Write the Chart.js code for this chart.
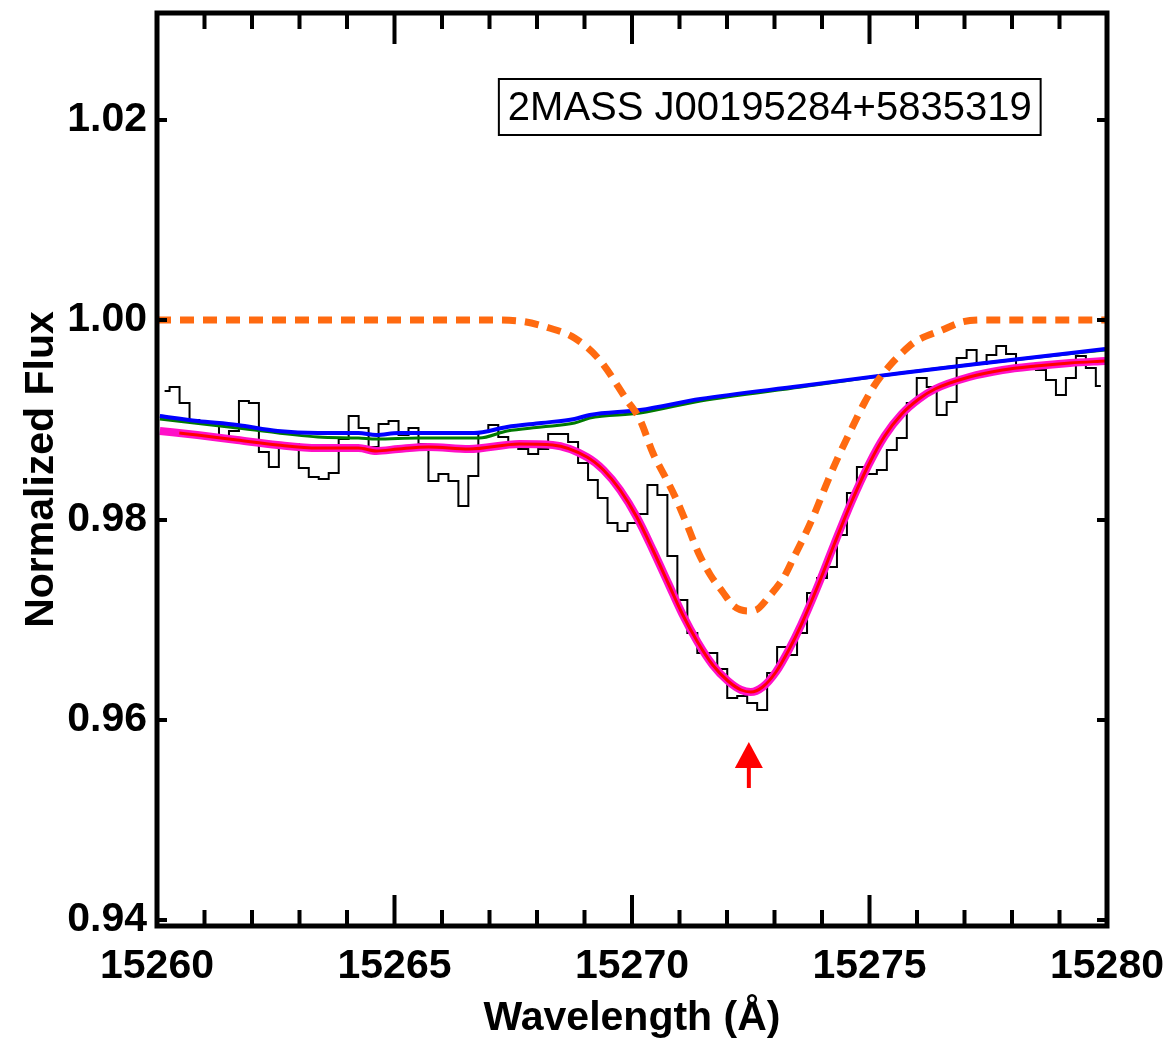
<!DOCTYPE html>
<html>
<head>
<meta charset="utf-8">
<script src="https://cdn.jsdelivr.net/npm/chart.js@4.4.1/dist/chart.umd.min.js"></script>
<style>
  html, body { margin: 0; padding: 0; background: #ffffff; }
  #wrap { width: 1167px; height: 1043px; }
</style>
</head>
<body>
<div id="wrap"><canvas id="c" width="1167" height="1043"></canvas></div>
<script>
// ---------- axis ranges / ticks ----------
const X_MIN = 15260, X_MAX = 15280, X_STEP = 5, X_MINOR = 1;
const Y_MIN = 0.9394, Y_MAX = 1.0307, Y_STEP = 0.02;

// ---------- observed spectrum (histogram, bin centres) ----------
const OBS_WAVE = [
  15260.16,15260.37,15260.58,15260.79,15260.99,15261.20,15261.41,15261.62,15261.83,15262.04,
  15262.25,15262.46,15262.67,15262.88,15263.09,15263.30,15263.51,15263.72,15263.93,15264.14,
  15264.35,15264.56,15264.77,15264.98,15265.19,15265.40,15265.61,15265.82,15266.03,15266.24,
  15266.45,15266.66,15266.87,15267.08,15267.29,15267.50,15267.71,15267.92,15268.13,15268.34,
  15268.55,15268.76,15268.97,15269.18,15269.38,15269.59,15269.80,15270.01,15270.22,15270.43,
  15270.64,15270.85,15271.06,15271.27,15271.48,15271.69,15271.90,15272.11,15272.32,15272.53,
  15272.74,15272.95,15273.16,15273.37,15273.58,15273.79,15274.00,15274.21,15274.42,15274.63,
  15274.84,15275.05,15275.26,15275.47,15275.68,15275.89,15276.10,15276.31,15276.52,15276.73,
  15276.94,15277.15,15277.36,15277.57,15277.77,15277.98,15278.19,15278.40,15278.61,15278.82,
  15279.03,15279.24,15279.45,15279.66,15279.87
];
const OBS_FLUX = [
  0.9929,0.9933,0.9917,0.9900,0.9898,0.9898,0.9884,0.9889,0.9919,0.9917,
  0.9868,0.9853,0.9876,0.9876,0.9852,0.9843,0.9841,0.9847,0.9881,0.9904,
  0.9892,0.9873,0.9896,0.9899,0.9885,0.9892,0.9876,0.9839,0.9846,0.9839,
  0.9814,0.9844,0.9888,0.9895,0.9883,0.9877,0.9871,0.9866,0.9871,0.9886,
  0.9886,0.9878,0.9857,0.9840,0.9822,0.9797,0.9789,0.9797,0.9806,0.9835,
  0.9825,0.9764,0.9720,0.9687,0.9667,0.9667,0.9651,0.9622,0.9624,0.9617,
  0.9610,0.9647,0.9673,0.9665,0.9687,0.9727,0.9742,0.9753,0.9785,0.9827,
  0.9853,0.9846,0.9850,0.9870,0.9882,0.9917,0.9942,0.9933,0.9905,0.9918,
  0.9962,0.9970,0.9956,0.9965,0.9974,0.9966,0.9955,0.9952,0.9950,0.9940,
  0.9925,0.9942,0.9964,0.9952,0.9934
];

// ---------- blue model ----------
const BLUE_WAVE = [15260.06,15260.85,15261.69,15262.54,15263.39,15264.24,15264.62,15265.08,15265.93,15266.67,
  15267.37,15268.09,15268.79,15269.11,15270.17,15271.44,15273.56,15275.68,15277.80,15279.96];
const BLUE_FLUX = [0.9904,0.9899,0.9895,0.9889,0.9887,0.9887,0.9885,0.9887,0.9887,0.9887,
  0.9893,0.9897,0.9901,0.9905,0.9910,0.9921,0.9934,0.9947,0.9959,0.9971];

// ---------- green model ----------
const GREEN_WAVE = [15260.06,15261.69,15263.39,15264.24,15264.62,15265.51,15266.78,15267.37,15268.09,15268.79,
  15269.11,15270.17,15271.44,15273.56,15275.68,15277.80,15279.96];
const GREEN_FLUX = [0.9901,0.9892,0.9883,0.9882,0.9881,0.9882,0.9882,0.9889,0.9893,0.9897,
  0.9902,0.9907,0.9919,0.9933,0.9947,0.9959,0.9970];

// ---------- magenta model ----------
const PINK_WAVE = [15260.06,15260.85,15261.69,15262.54,15263.39,15264.24,15264.62,15265.08,15265.72,15266.57,
  15267.63,15268.33,15269.05,15269.40,15269.75,15270.10,15270.44,15270.76,15271.06,15271.38,
  15271.70,15272.02,15272.30,15272.50,15272.75,15273.03,15273.30,15273.56,15273.92,15274.26,
  15274.62,15274.98,15275.32,15275.68,15276.04,15276.38,15277.10,15277.80,15278.50,15279.22,
  15279.96];
const PINK_FLUX = [0.9889,0.9885,0.9880,0.9875,0.9872,0.9872,0.9869,0.9871,0.9873,0.9871,
  0.9876,0.9875,0.9863,0.9850,0.9830,0.9803,0.9770,0.9737,0.9706,0.9678,
  0.9655,0.9639,0.9630,0.9628,0.9633,0.9648,0.9670,0.9695,0.9735,0.9776,
  0.9818,0.9855,0.9884,0.9906,0.9921,0.9931,0.9943,0.9950,0.9954,0.9957,
  0.9959];

// ---------- red model ----------
const RED_WAVE = [15260.47,15260.85,15261.69,15262.54,15263.39,15264.24,15264.62,15265.08,15265.72,15266.57,
  15267.63,15268.33,15269.05,15269.40,15269.75,15270.10,15270.44,15270.76,15271.06,15271.38,
  15271.70,15272.02,15272.30,15272.50,15272.75,15273.03,15273.30,15273.56,15273.92,15274.26,
  15274.62,15274.98,15275.32,15275.68,15276.04,15276.38,15277.10,15277.80,15278.50,15279.22,
  15279.96];
const RED_FLUX = [0.9887,0.9885,0.9880,0.9875,0.9872,0.9872,0.9869,0.9871,0.9873,0.9871,
  0.9876,0.9875,0.9863,0.9850,0.9830,0.9803,0.9770,0.9737,0.9706,0.9678,
  0.9655,0.9639,0.9630,0.9628,0.9633,0.9648,0.9670,0.9695,0.9735,0.9776,
  0.9818,0.9855,0.9884,0.9906,0.9921,0.9931,0.9943,0.9950,0.9954,0.9957,
  0.9959];

// ---------- orange dashed line profile ----------
const ORANGE_WAVE = [15260.00,15266.99,15267.63,15268.26,15268.79,15269.32,15269.89,15270.17,15270.44,15270.70,
  15270.91,15271.17,15271.40,15271.65,15271.91,15272.14,15272.44,15272.61,15272.86,15273.20,
  15273.41,15273.62,15273.83,15274.13,15274.34,15274.56,15274.89,15275.11,15275.40,15275.68,
  15275.95,15276.53,15276.95,15277.37,15280.00];
const ORANGE_FLUX = [1.0000,1.0000,0.9999,0.9992,0.9982,0.9960,0.9920,0.9900,0.9867,0.9843,
  0.9823,0.9794,0.9767,0.9745,0.9728,0.9714,0.9709,0.9710,0.9722,0.9743,
  0.9763,0.9783,0.9805,0.9840,0.9863,0.9885,0.9917,0.9935,0.9953,0.9967,
  0.9978,0.9990,0.9998,1.0000,1.0000];

// ---------- annotations ----------
const STAR_LABEL = "2MASS J00195284+5835319";
const LABEL_POS = { x: 15272.90, y: 1.0213 };
const ARROW = { x: 15272.46, tip: 0.9578, base: 0.9552, tail: 0.9532 };
const X_TITLE = "Wavelength (Å)";
const Y_TITLE = "Normalized Flux";

const FONT_FAMILY = '"Liberation Sans", Arial, Helvetica, sans-serif';

function pts(xs, ys) { return xs.map((x, i) => ({ x: x, y: ys[i] })); }

// frame + inward ticks
const framePlugin = {
  id: 'frame',
  afterDatasetsDraw(chart) {
    const { ctx, chartArea: a, scales } = chart;
    const xs = scales.x, ys = scales.y;
    ctx.save();
    ctx.strokeStyle = '#000';
    ctx.lineCap = 'butt';
    ctx.lineWidth = 4;
    for (let v = X_MIN; v <= X_MAX + 1e-9; v += X_MINOR) {
      const px = xs.getPixelForValue(v);
      const major = Math.abs(v / X_STEP - Math.round(v / X_STEP)) < 1e-6;
      const len = major ? 31 : 16;
      ctx.beginPath();
      ctx.moveTo(px, a.bottom); ctx.lineTo(px, a.bottom - len);
      ctx.moveTo(px, a.top); ctx.lineTo(px, a.top + len);
      ctx.stroke();
    }
    ys.ticks.forEach(t => {
      const py = ys.getPixelForValue(t.value);
      ctx.beginPath();
      ctx.moveTo(a.left, py); ctx.lineTo(a.left + 10, py);
      ctx.moveTo(a.right, py); ctx.lineTo(a.right - 10, py);
      ctx.stroke();
    });
    ctx.lineWidth = 5;
    ctx.strokeRect(a.left, a.top, a.right - a.left, a.bottom - a.top);
    ctx.restore();
  }
};

const annotPlugin = {
  id: 'annot',
  afterDatasetsDraw(chart) {
    const { ctx, scales } = chart;
    const xs = scales.x, ys = scales.y;
    ctx.save();
    ctx.font = '40px ' + FONT_FAMILY;
    ctx.textAlign = 'center';
    ctx.textBaseline = 'middle';
    const cx = xs.getPixelForValue(LABEL_POS.x);
    const cy = ys.getPixelForValue(LABEL_POS.y);
    const w = ctx.measureText(STAR_LABEL).width + 18;
    const h = 56;
    ctx.fillStyle = '#fff';
    ctx.fillRect(cx - w / 2, cy - h / 2, w, h);
    ctx.lineWidth = 2;
    ctx.strokeStyle = '#000';
    ctx.strokeRect(cx - w / 2, cy - h / 2, w, h);
    ctx.fillStyle = '#000';
    ctx.fillText(STAR_LABEL, cx, cy + 2);
    const ax = xs.getPixelForValue(ARROW.x);
    const yTip = ys.getPixelForValue(ARROW.tip);
    const yBase = ys.getPixelForValue(ARROW.base);
    const yTail = ys.getPixelForValue(ARROW.tail);
    ctx.fillStyle = '#ff0000';
    ctx.beginPath();
    ctx.moveTo(ax, yTip);
    ctx.lineTo(ax + 14, yBase);
    ctx.lineTo(ax - 14, yBase);
    ctx.closePath();
    ctx.fill();
    ctx.fillRect(ax - 2, yBase - 1, 4, yTail - yBase + 1);
    ctx.restore();
  }
};

const ctx = document.getElementById('c').getContext('2d');
new Chart(ctx, {
  type: 'line',
  data: {
    datasets: [
      { label: 'orange', data: pts(ORANGE_WAVE, ORANGE_FLUX), borderColor: '#ff6a10', borderWidth: 7,
        borderDash: [14, 9], pointRadius: 0, cubicInterpolationMode: 'monotone', order: 0, borderCapStyle: 'butt' },
      { label: 'red', data: pts(RED_WAVE, RED_FLUX), borderColor: '#ff0000', borderWidth: 3,
        pointRadius: 0, cubicInterpolationMode: 'monotone', order: 1 },
      { label: 'magenta', data: pts(PINK_WAVE, PINK_FLUX), borderColor: '#ff10c8', borderWidth: 8,
        pointRadius: 0, cubicInterpolationMode: 'monotone', order: 2 },
      { label: 'blue', data: pts(BLUE_WAVE, BLUE_FLUX), borderColor: '#0000ff', borderWidth: 4,
        pointRadius: 0, cubicInterpolationMode: 'monotone', order: 3 },
      { label: 'green', data: pts(GREEN_WAVE, GREEN_FLUX), borderColor: '#007a00', borderWidth: 3,
        pointRadius: 0, cubicInterpolationMode: 'monotone', order: 4 },
      { label: 'observed', data: pts(OBS_WAVE, OBS_FLUX), borderColor: '#000000', borderWidth: 2,
        pointRadius: 0, stepped: 'middle', order: 5, borderJoinStyle: 'miter' }
    ]
  },
  options: {
    responsive: false,
    animation: false,
    devicePixelRatio: 1,
    layout: { padding: { top: 13, right: 60, bottom: 0, left: 0 } },
    plugins: { legend: { display: false }, tooltip: { enabled: false } },
    scales: {
      x: {
        type: 'linear', min: X_MIN, max: X_MAX,
        grid: { display: false, drawTicks: false },
        border: { display: false },
        ticks: { stepSize: X_STEP, autoSkip: false, maxRotation: 0, padding: 16, color: '#000',
          font: { family: FONT_FAMILY, size: 41, weight: 'bold' },
          callback: v => String(v) },
        title: { display: true, text: X_TITLE, color: '#000', padding: { top: 0, bottom: 0 },
          font: { family: FONT_FAMILY, size: 41, weight: 'bold' } },
        afterFit: s => { s.height = 117; s.paddingLeft = 0; s.paddingRight = 0; }
      },
      y: {
        type: 'linear', min: Y_MIN, max: Y_MAX,
        grid: { display: false, drawTicks: false },
        border: { display: false },
        ticks: { stepSize: Y_STEP, includeBounds: false, padding: 10, color: '#000',
          font: { family: FONT_FAMILY, size: 41, weight: 'bold' },
          callback: v => Number(v).toFixed(2) },
        title: { display: true, text: Y_TITLE, color: '#000', padding: { top: 17, bottom: 0 },
          font: { family: FONT_FAMILY, size: 41, weight: 'bold' } },
        afterFit: s => { s.width = 157; s.paddingTop = 0; s.paddingBottom = 0; }
      }
    }
  },
  plugins: [framePlugin, annotPlugin]
});
</script>
</body>
</html>
